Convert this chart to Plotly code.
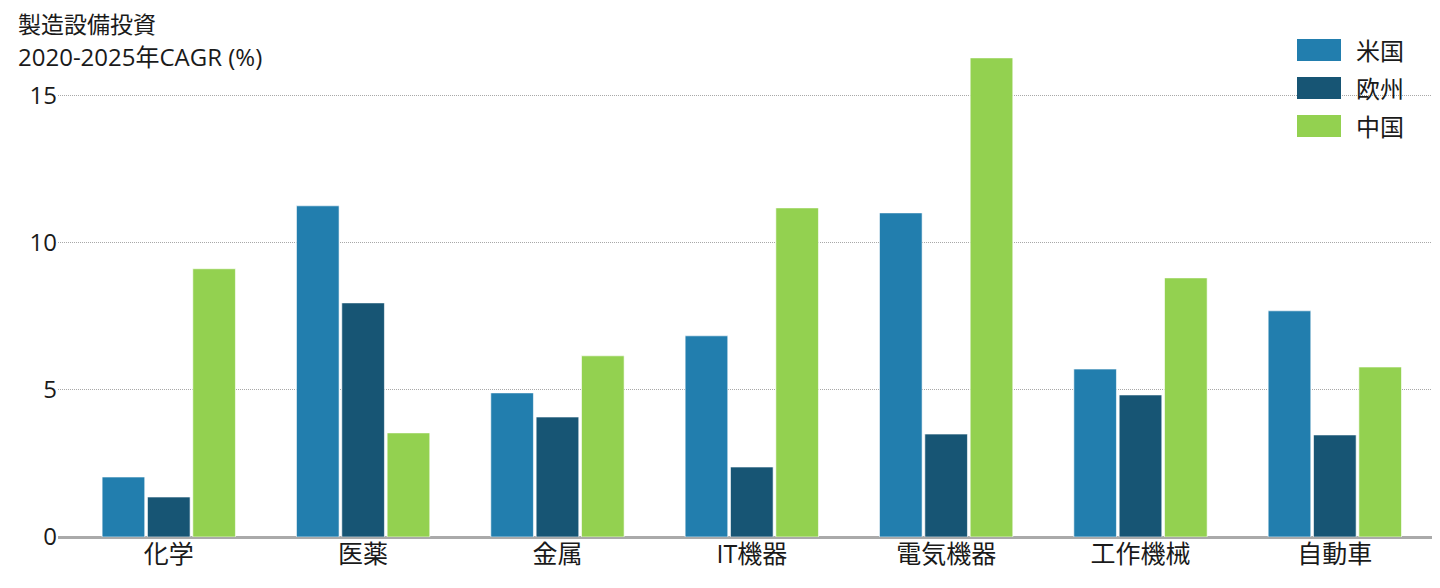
import plotly.graph_objects as go

categories = ["化学", "医薬", "金属", "IT機器", "電気機器", "工作機械", "自動車"]
us = [2.04, 11.26, 4.90, 6.84, 11.02, 5.71, 7.69]
eu = [1.36, 7.96, 4.08, 2.38, 3.50, 4.83, 3.47]
cn = [9.12, 3.54, 6.16, 11.19, 16.29, 8.81, 5.78]
series_names = ["米国", "欧州", "中国"]
colors = ["#227eae", "#175574", "#93d150"]
yticks = [0, 5, 10, 15]

OFF = 8  # default page body margin
W, H = 1440 - OFF, 588 - OFF
ML, MR, MT, MB = 50, 8, 29, 51
FONT = "Open Sans, Noto Sans CJK JP, sans-serif"

fig = go.Figure()
for name, vals, col in zip(series_names, [us, eu, cn], colors):
    fig.add_trace(go.Bar(
        x=categories, y=vals, name=name,
        marker=dict(color=col, line=dict(color="rgba(255,255,255,0.6)", width=1)),
        showlegend=False,
    ))

pw = W - ML - MR
ph = H - MT - MB

def px(x):
    return (x - OFF - ML) / pw

def py(y):
    return (H - MB - (y - OFF)) / ph

# custom legend
leg_x0, leg_w, leg_h = 1297, 44, 22
leg_ys = [50, 88, 126]
for name, col, yc in zip(series_names, colors, leg_ys):
    fig.add_shape(type="rect", xref="paper", yref="paper",
                  x0=px(leg_x0), x1=px(leg_x0 + leg_w),
                  y0=py(yc + leg_h / 2), y1=py(yc - leg_h / 2),
                  fillcolor=col, line=dict(width=0), layer="above")
    fig.add_annotation(xref="paper", yref="paper",
                       x=px(1354), y=py(yc),
                       text=name, showarrow=False, xanchor="left", yanchor="middle",
                       font=dict(size=24, color="#1a1a1a", family=FONT))

fig.add_annotation(xref="paper", yref="paper",
                   x=px(16), y=py(24),
                   text="製造設備投資", showarrow=False, xanchor="left", yanchor="middle",
                   font=dict(size=23, color="#1a1a1a", family=FONT))
fig.add_annotation(xref="paper", yref="paper",
                   x=px(16), y=py(56),
                   text="2020-2025年CAGR (%)", showarrow=False, xanchor="left", yanchor="middle",
                   font=dict(size=24, color="#1a1a1a", family=FONT))

fig.update_layout(
    width=W, height=H,
    margin=dict(l=ML, r=MR, t=MT, b=MB),
    paper_bgcolor="white", plot_bgcolor="white",
    barmode="group", bargap=0.30, bargroupgap=0.06,
    font=dict(family=FONT, size=24, color="#1a1a1a"),
    xaxis=dict(range=[-0.57, 6.5], showgrid=False, ticks="", showline=False,
               tickfont=dict(size=25), zeroline=False),
    yaxis=dict(range=[0, 17], tickvals=yticks, showgrid=True,
               gridcolor="#a8a8a8", griddash="1px,1px", gridwidth=1,
               zeroline=True, zerolinecolor="#aaaaaa", zerolinewidth=3,
               ticks="", showline=False, tickfont=dict(size=24)),
)

fig.write_html("out.html")
